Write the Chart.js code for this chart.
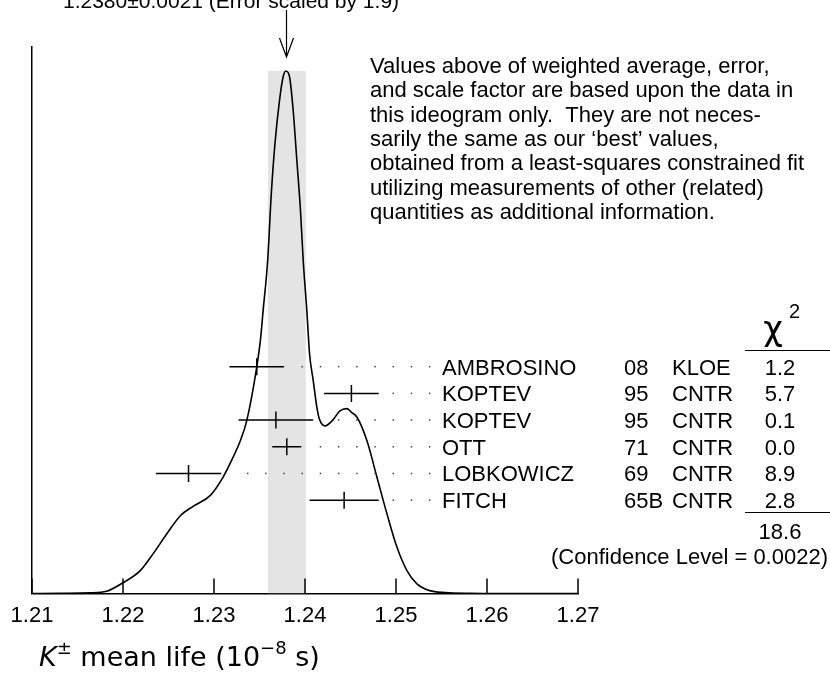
<!DOCTYPE html>
<html>
<head>
<meta charset="utf-8">
<script src="https://cdn.jsdelivr.net/npm/chart.js@4.4.0/dist/chart.umd.min.js"></script>
<style>
  html, body { margin: 0; padding: 0; background: #fff; }
  canvas { display: block; }
</style>
</head>
<body>
<canvas id="ideogram" width="830" height="681"></canvas>
<script>
// measurements, listed top row first
const names = ['AMBROSINO', 'KOPTEV', 'KOPTEV', 'OTT', 'LOBKOWICZ', 'FITCH'];
const years = ['08', '95', '95', '71', '69', '65B'];
const experiments = ['KLOE', 'CNTR', 'CNTR', 'CNTR', 'CNTR', 'CNTR'];
const values = [1.2347, 1.2451, 1.2368, 1.2380, 1.2272, 1.2443];
const errors = [0.0030, 0.0030, 0.0041, 0.0016, 0.0036, 0.0038];
const chi2 = ['1.2', '5.7', '0.1', '0.0', '8.9', '2.8'];
const chi2Total = '18.6';
const confidence = '0.0022';

// weighted average and scaled error (grey band)
const weightedAvg = 1.2380;
const avgError = 0.0021;
const scaleFactor = '1.9';

// ideogram curve (arbitrary units, peak = 100)
const curveX = [1.2100, 1.2131, 1.2164, 1.2182, 1.2199, 1.2219, 1.2233, 1.2248, 1.2263, 1.2277,
  1.2296, 1.2310, 1.2321, 1.2329, 1.2336, 1.2347, 1.2351, 1.2354, 1.2359, 1.2363,
  1.2367, 1.2372, 1.2376, 1.2379, 1.2383, 1.2387, 1.2391, 1.2395, 1.2398, 1.2402,
  1.2405, 1.2409, 1.2413, 1.2416, 1.2422, 1.2431, 1.2438, 1.2446, 1.2451, 1.2457,
  1.2468, 1.2479, 1.2490, 1.2501, 1.2512, 1.2523, 1.2537, 1.2554, 1.2581, 1.2614, 1.2700];
const curveY = [0, 0.06, 0.13, 0.44, 1.97, 4.4, 7.6, 11.4, 14.9, 16.7,
  18.8, 22.3, 26.1, 29.3, 33.1, 43.4, 48.5, 54.2, 63.8, 76.6,
  86.1, 94.4, 98.9, 100, 98.9, 92.5, 83.0, 73.4, 63.8, 54.2,
  45.9, 40.8, 35.7, 33.3, 32.1, 33.3, 34.9, 35.4, 34.7, 33.8,
  29.3, 22.3, 15.3, 8.9, 4.4, 1.86, 0.57, 0.2, 0.04, 0, 0];

const xTicks = [1.21, 1.22, 1.23, 1.24, 1.25, 1.26, 1.27];

const note = [
  'Values above of weighted average, error,',
  'and scale factor are based upon the data in',
  'this ideogram only.  They are not neces-',
  'sarily the same as our \u2018best\u2019 values,',
  'obtained from a least-squares constrained fit',
  'utilizing measurements of other (related)',
  'quantities as additional information.'
];

const peak = Math.max(...curveY);
const rowOf = i => names.length - i; // top row gets the highest row value

const barData = [];
values.forEach((v, i) => {
  barData.push({ x: v - errors[i], y: rowOf(i) });
  barData.push({ x: v + errors[i], y: rowOf(i) });
  barData.push({ x: v, y: null });
});

const SANS = '"Liberation Sans", Arial, sans-serif';

const extras = {
  id: 'extras',
  afterDraw(chart) {
    const { ctx, chartArea: area, scales: { x, yRow } } = chart;
    ctx.save();
    ctx.strokeStyle = '#000';
    ctx.fillStyle = '#000';

    // inward tick marks
    ctx.lineWidth = 1.5;
    xTicks.forEach(v => {
      const px = Math.round(x.getPixelForValue(v));
      ctx.beginPath();
      ctx.moveTo(px, area.bottom);
      ctx.lineTo(px, area.bottom - 15);
      ctx.stroke();
    });

    // arrow pointing at the weighted average
    const ax = Math.round(x.getPixelForValue(weightedAvg)) - 0.5;
    ctx.lineWidth = 1.2;
    ctx.beginPath();
    ctx.moveTo(ax, 10);
    ctx.lineTo(ax, 57);
    ctx.moveTo(ax - 7, 38);
    ctx.lineTo(ax, 57);
    ctx.lineTo(ax + 7, 38);
    ctx.stroke();

    // header line, mostly cut off at the top
    ctx.font = '21px ' + SANS;
    ctx.textAlign = 'left';
    ctx.textBaseline = 'alphabetic';
    ctx.fillText(weightedAvg.toFixed(4) + '\u00b1' + avgError.toFixed(4) + ' (Error scaled by ' + scaleFactor + ')', 63, 8);

    // explanatory note
    ctx.font = '22px ' + SANS;
    note.forEach((line, k) => ctx.fillText(line, 370, 73 + k * 24.3));

    // leader dots
    ctx.fillStyle = '#444';
    values.forEach((v, i) => {
      const py = yRow.getPixelForValue(rowOf(i));
      const end = x.getPixelForValue(v + errors[i]) + 10;
      for (let k = 0; k <= 10; k++) {
        const px = x.getPixelForValue(1.2337 + k * 0.002);
        if (px > end) ctx.fillRect(px - 0.75, py - 0.75, 1.5, 1.5);
      }
    });
    ctx.fillStyle = '#000';

    // table
    ctx.font = '22px ' + SANS;
    values.forEach((v, i) => {
      const base = yRow.getPixelForValue(rowOf(i)) + 8;
      ctx.textAlign = 'left';
      ctx.fillText(names[i], 442, base);
      ctx.fillText(years[i], 624, base);
      ctx.fillText(experiments[i], 672, base);
      ctx.textAlign = 'center';
      ctx.fillText(chi2[i], 780, base);
    });
    const lastRow = yRow.getPixelForValue(rowOf(names.length - 1));
    ctx.textAlign = 'center';
    ctx.fillText(chi2Total, 780, lastRow + 39);
    ctx.textAlign = 'right';
    ctx.fillText('(Confidence Level = ' + confidence + ')', 828, lastRow + 64);

    // chi-squared header and rules
    ctx.textAlign = 'center';
    ctx.font = '34px "DejaVu Sans", sans-serif';
    ctx.fillText('\u03c7', 773, 340);
    ctx.font = '20px ' + SANS;
    ctx.textAlign = 'left';
    ctx.fillText('2', 789, 318);
    ctx.lineWidth = 1;
    ctx.beginPath();
    ctx.moveTo(745, 350.5);
    ctx.lineTo(830, 350.5);
    ctx.moveTo(745, Math.round(lastRow + 12) + 0.5);
    ctx.lineTo(830, Math.round(lastRow + 12) + 0.5);
    ctx.stroke();

    // axis title: K± mean life (10^-8 s)
    let tx = 39;
    const ty = 666;
    const put = (txt, font, dy) => {
      ctx.font = font;
      ctx.fillText(txt, tx, ty + dy);
      tx += ctx.measureText(txt).width;
    };
    ctx.textAlign = 'left';
    put('K', 'italic 27px "DejaVu Sans", sans-serif', 0);
    put('\u00b1', '18px "DejaVu Sans", sans-serif', -12);
    put(' mean life (10', '27px "DejaVu Sans", sans-serif', 0);
    put('\u22128', '18px "DejaVu Sans", sans-serif', -12);
    put(' s)', '27px "DejaVu Sans", sans-serif', 0);

    ctx.restore();
  }
};

new Chart(document.getElementById('ideogram'), {
  type: 'scatter',
  data: {
    datasets: [
      {
        data: barData,
        yAxisID: 'yRow',
        showLine: true,
        spanGaps: false,
        borderColor: '#000',
        borderWidth: 1.5,
        pointRadius: 0,
        order: 0
      },
      {
        data: values.map((v, i) => ({ x: v, y: rowOf(i) })),
        yAxisID: 'yRow',
        pointStyle: 'line',
        rotation: 90,
        radius: 8.5,
        borderColor: '#000',
        borderWidth: 1.5,
        order: 0
      },
      {
        data: curveX.map((v, i) => ({ x: v, y: curveY[i] })),
        showLine: true,
        cubicInterpolationMode: 'monotone',
        borderColor: '#000',
        borderWidth: 1.6,
        pointRadius: 0,
        order: 1
      },
      {
        data: [{ x: weightedAvg - avgError, y: peak }, { x: weightedAvg + avgError, y: peak }],
        showLine: true,
        fill: 'origin',
        backgroundColor: '#e4e4e4',
        borderWidth: 0,
        pointRadius: 0,
        order: 3
      }
    ]
  },
  options: {
    responsive: false,
    animation: false,
    layout: { padding: { left: 32, right: 252, top: 47, bottom: 43 } },
    plugins: { legend: { display: false }, tooltip: { enabled: false } },
    scales: {
      x: {
        type: 'linear',
        min: 1.21,
        max: 1.27,
        afterBuildTicks: s => { s.ticks = xTicks.map(v => ({ value: v })); },
        grid: { display: false, drawTicks: false },
        border: { display: true, color: '#000', width: 1.5 },
        ticks: {
          autoSkip: false,
          maxRotation: 0,
          padding: 9,
          color: '#000',
          font: { family: 'Liberation Sans', size: 22 },
          callback: v => v.toFixed(2)
        }
      },
      y: {
        min: 0,
        max: peak * 1.046,
        grid: { display: false, drawTicks: false },
        border: { display: true, color: '#000', width: 1.5 },
        ticks: { display: false }
      },
      yRow: {
        type: 'linear',
        axis: 'y',
        display: false,
        min: -2.5,
        max: 17.975
      }
    }
  },
  plugins: [extras]
});
</script>
</body>
</html>
